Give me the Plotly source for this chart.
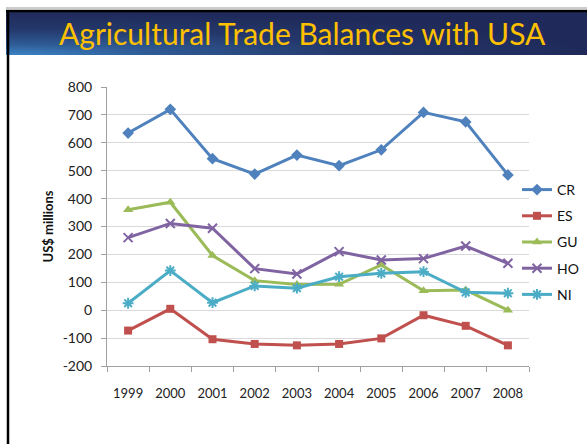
import base64
import plotly.graph_objects as go

years = ["1999", "2000", "2001", "2002", "2003", "2004", "2005", "2006", "2007", "2008"]
cr = [635, 720, 543, 488, 556, 518, 575, 709, 675, 485]
es = [-73, 5, -104, -121, -126, -121, -101, -18, -56, -126]
gu = [360, 387, 196, 106, 92, 93, 162, 70, 72, 0]
ho = [260, 311, 294, 149, 130, 210, 180, 185, 230, 168]
ni = [25, 142, 27, 87, 79, 120, 132, 138, 64, 61]

y_ticks = [-200, -100, 0, 100, 200, 300, 400, 500, 600, 700, 800]
y_tick_labels = ["-200", "-100", "0", "100", "200", "300", "400", "500", "600", "700", "800"]

series = [
    ("CR", cr, "#4F81BD", "diamond", 9),
    ("ES", es, "#C0504D", "square", 8),
    ("GU", gu, "#9BBB59", "triangle-up", 9),
    ("HO", ho, "#8064A2", "x-thin", 9),
    ("NI", ni, "#4BACC6", "asterisk", 9),
]

W, H = 587, 444
L, R, T, B = 107, 529, 87, 366


def px(x):
    return (x - L) / (R - L)


def py(y):
    return (B - y) / (B - T)


fig = go.Figure()
for name, vals, col, sym, sz in series:
    open_sym = sym in ("x-thin", "asterisk")
    fig.add_trace(go.Scatter(
        x=years, y=vals, name=name, mode="lines+markers", legendgroup=name,
        line=dict(color=col, width=3),
        marker=dict(symbol=sym, size=sz, color=col,
                    line=dict(color=col, width=2 if open_sym else 0)),
    ))

svg = (
    '<svg xmlns="http://www.w3.org/2000/svg" width="580" height="43" preserveAspectRatio="none" viewBox="0 0 580 43">'
    '<defs><radialGradient id="g" cx="0" cy="1" r="1">'
    '<stop offset="0" stop-color="#3b84c6"/>'
    '<stop offset="0.25" stop-color="#2f5b95"/>'
    '<stop offset="0.6" stop-color="#24386b"/>'
    '<stop offset="1" stop-color="#1f2a5a"/>'
    '</radialGradient></defs>'
    '<rect width="580" height="43" fill="url(#g)"/></svg>'
)
src = "data:image/svg+xml;base64," + base64.b64encode(svg.encode()).decode()

fig.update_layout(
    width=W, height=H,
    margin=dict(l=L, r=W - R, t=T, b=H - B, autoexpand=False),
    paper_bgcolor="white", plot_bgcolor="white",
    font=dict(family="Lato, 'Open Sans', sans-serif", color="#222", size=13),
    showlegend=True,
    legend=dict(x=px(517), y=py(174), xanchor="left", yanchor="top",
                font=dict(size=14, color="#111"), tracegroupgap=5,
                itemwidth=30, bgcolor="rgba(0,0,0,0)"),
    images=[dict(source=src, xref="paper", yref="paper",
                 x=px(6), y=py(12), sizex=px(587) - px(6), sizey=py(12) - py(55),
                 xanchor="left", yanchor="top", sizing="stretch", layer="below")],
    shapes=[
        dict(type="line", xref="paper", yref="paper", x0=px(6), x1=px(590), y0=py(8), y1=py(8),
             line=dict(color="#999", width=1)),
        dict(type="line", xref="paper", yref="paper", x0=px(6), x1=px(590), y0=py(11), y1=py(11),
             line=dict(color="black", width=2.5)),
        dict(type="line", xref="paper", yref="paper", x0=px(8), x1=px(8), y0=py(10), y1=py(450),
             line=dict(color="black", width=2.5)),
    ],
    annotations=[dict(text="Agricultural Trade Balances with USA", xref="paper", yref="paper",
                      x=px(302), y=py(33), xanchor="center", yanchor="middle", showarrow=False,
                      font=dict(size=30, color="#FFC000", family="Lato, 'Open Sans', sans-serif"))],
)

fig.update_xaxes(
    type="category", showgrid=False, showline=True, linecolor="#a0a0a0", linewidth=1,
    ticks="outside", tickson="boundaries", ticklen=5, tickcolor="#a0a0a0", tickangle=0,
    ticklabelstandoff=15,
    tickfont=dict(size=13, color="#222"), range=[-0.5, 9.5],
)
fig.update_yaxes(
    range=[-200, 800], tickvals=y_ticks, ticktext=y_tick_labels,
    showgrid=True, gridcolor="#d9d9d9", gridwidth=1,
    showline=True, linecolor="#a0a0a0", linewidth=1, ticks="outside", ticklen=5,
    ticklabelstandoff=6,
    tickcolor="#a0a0a0", zeroline=False, tickfont=dict(size=14, color="#222"),
    title=dict(text="<b>US$ millions</b>", font=dict(size=13, color="#111"), standoff=6),
)

fig.write_html("out.html", post_script="document.body.style.margin='0';",
               config={"displayModeBar": False})
